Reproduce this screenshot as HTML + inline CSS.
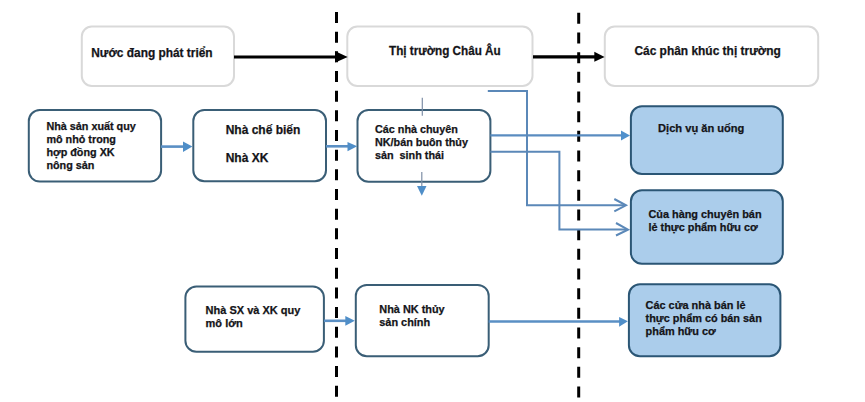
<!DOCTYPE html>
<html><head><meta charset="utf-8">
<style>
html,body{margin:0;padding:0;background:#fff;}
body{width:865px;height:402px;overflow:hidden;position:relative;}
svg{position:absolute;left:0;top:0;}
text{font-family:"Liberation Sans",sans-serif;font-weight:bold;fill:#141418;stroke:#141418;stroke-width:0.25px;}
</style></head>
<body>
<svg width="865" height="402" viewBox="0 0 865 402">
<!-- top boxes -->
<rect x="81.8" y="26.6" width="152.2" height="59.3" rx="10" fill="#fff" stroke="#d9d9d9" stroke-width="2"/>
<rect x="347.3" y="26.6" width="185.2" height="59.3" rx="10" fill="#fff" stroke="#d9d9d9" stroke-width="2"/>
<rect x="604.8" y="26.6" width="213.4" height="59.3" rx="10" fill="#fff" stroke="#d9d9d9" stroke-width="2"/>

<!-- dashed lines -->
<line x1="336.5" y1="12" x2="336.5" y2="402" stroke="#000" stroke-width="3" stroke-dasharray="11 8.67"/>
<line x1="578.7" y1="12.8" x2="578.7" y2="402" stroke="#000" stroke-width="3" stroke-dasharray="11 8.67"/>

<!-- black arrows -->
<line x1="234" y1="57" x2="337" y2="57" stroke="#000" stroke-width="3.2"/>
<polygon points="335.3,51.3 347.7,56.9 335.3,62.5" fill="#000"/>
<line x1="533" y1="56.9" x2="595" y2="56.9" stroke="#000" stroke-width="3.1"/>
<polygon points="594.3,51.8 604.6,56.9 594.3,61.8" fill="#000"/>

<!-- outline boxes -->
<rect x="28.8" y="110" width="132.3" height="71.6" rx="11" fill="#fff" stroke="#3a5e76" stroke-width="2"/>
<rect x="193.3" y="110" width="132.7" height="71.3" rx="11" fill="#fff" stroke="#3a5e76" stroke-width="2"/>
<rect x="357.5" y="110" width="132.9" height="71.7" rx="11" fill="#fff" stroke="#3a5e76" stroke-width="2"/>
<rect x="185.4" y="286.6" width="138.5" height="65.2" rx="11" fill="#fff" stroke="#3a5e76" stroke-width="2"/>
<rect x="355.8" y="284.9" width="132.9" height="71.4" rx="11" fill="#fff" stroke="#3a5e76" stroke-width="2"/>

<!-- filled boxes -->
<rect x="630.9" y="106.2" width="151.9" height="67.7" rx="11" fill="#abcdeb" stroke="#2b5675" stroke-width="2"/>
<rect x="630.9" y="190.3" width="151.9" height="73.5" rx="11" fill="#abcdeb" stroke="#2b5675" stroke-width="2"/>
<rect x="628.9" y="284.2" width="151.5" height="72.1" rx="11" fill="#abcdeb" stroke="#2b5675" stroke-width="2"/>

<!-- blue arrows row1 -->
<line x1="161" y1="146.6" x2="184" y2="146.6" stroke="#5a8fc4" stroke-width="2.6"/>
<polygon points="183,141.6 192.4,146.6 183,152" fill="#4f8ec8"/>
<line x1="326" y1="146.3" x2="348" y2="146.3" stroke="#5a8fc4" stroke-width="2.6"/>
<polygon points="347.5,142 357.2,146.3 347.5,151.3" fill="#4f8ec8"/>
<!-- row3 arrows -->
<line x1="324" y1="320.8" x2="346" y2="320.8" stroke="#5a8fc4" stroke-width="2.6"/>
<polygon points="345.3,315.9 354.8,320.8 345.3,325.7" fill="#4f8ec8"/>
<line x1="488.7" y1="321.4" x2="620" y2="321.4" stroke="#5a8fc4" stroke-width="2.5"/>
<polygon points="619.1,316.9 627.9,321.3 619.1,326.7" fill="#4f8ec8"/>

<!-- thin vertical line through P3 -->
<line x1="422.3" y1="97.8" x2="422.3" y2="115.7" stroke="#7d8ea6" stroke-width="1.2"/>
<line x1="421.8" y1="172" x2="421.8" y2="187" stroke="#7d8ea6" stroke-width="1.2"/>
<polygon points="417,186 426.5,186 421.8,195.7" fill="#4f8ec8"/>

<!-- P3 -> F1 -->
<line x1="490.4" y1="135.4" x2="622" y2="135.4" stroke="#5a8cc0" stroke-width="2.4"/>
<polygon points="621,130.4 630,135.4 621,140.5" fill="#4f90cc"/>

<!-- line A: from top -->
<polyline points="487.8,91 527,91 527,205.3 625,205.3" fill="none" stroke="#5b88b8" stroke-width="2"/>
<polyline points="614.3,199 626,205.3 614.3,211.4" fill="none" stroke="#5b88b8" stroke-width="2"/>
<!-- line C -->
<polyline points="490.4,151.8 559.4,151.8 559.4,229.6 627,229.6" fill="none" stroke="#5b88b8" stroke-width="2"/>
<polyline points="616,223 628,229.6 616,235.5" fill="none" stroke="#5b88b8" stroke-width="2"/>

<!-- texts -->
<text x="91.2" y="56.8" font-size="11.9">Nước đang phát triển</text>
<text transform="translate(389,55.4) scale(0.975,1)" x="0" y="0" font-size="12">Thị trường Châu Âu</text>
<text x="634.4" y="54.9" font-size="11.95">Các phân khúc thị trường</text>

<text font-size="10.8"><tspan x="46.4" y="129.9">Nhà sản xuất quy</tspan><tspan x="46.4" y="143">mô nhỏ trong</tspan><tspan x="46.4" y="155.9">hợp đồng XK</tspan><tspan x="46.4" y="168.8">nông sản</tspan></text>
<text font-size="12"><tspan x="225.7" y="134">Nhà chế biến</tspan><tspan x="225.7" y="161.8">Nhà XK</tspan></text>
<text font-size="10.8"><tspan x="375" y="132.7">Các nhà chuyên</tspan><tspan x="375" y="145.8">NK/bán buôn thủy</tspan><tspan x="375" y="158.9" xml:space="preserve" style="white-space:pre">sản  sinh thái</tspan></text>
<text font-size="11"><tspan x="205.6" y="313.9">Nhà SX và XK quy</tspan><tspan x="205.6" y="327.2">mô lớn</tspan></text>
<text font-size="10.9"><tspan x="379.3" y="313">Nhà NK thủy</tspan><tspan x="379.3" y="326">sản chính</tspan></text>

<text font-size="11.1" x="658.1" y="131.7">Dịch vụ ăn uống</text>
<text font-size="10.9"><tspan x="648.4" y="218">Của hàng chuyên bán</tspan><tspan x="648.4" y="231.2">lẻ thực phẩm hữu cơ</tspan></text>
<text font-size="10.9"><tspan x="645.6" y="309">Các cửa nhà bán lẻ</tspan><tspan x="645.6" y="322.2">thực phẩm có bán sản</tspan><tspan x="645.6" y="335.2">phẩm hữu cơ</tspan></text>
</svg>
</body></html>
